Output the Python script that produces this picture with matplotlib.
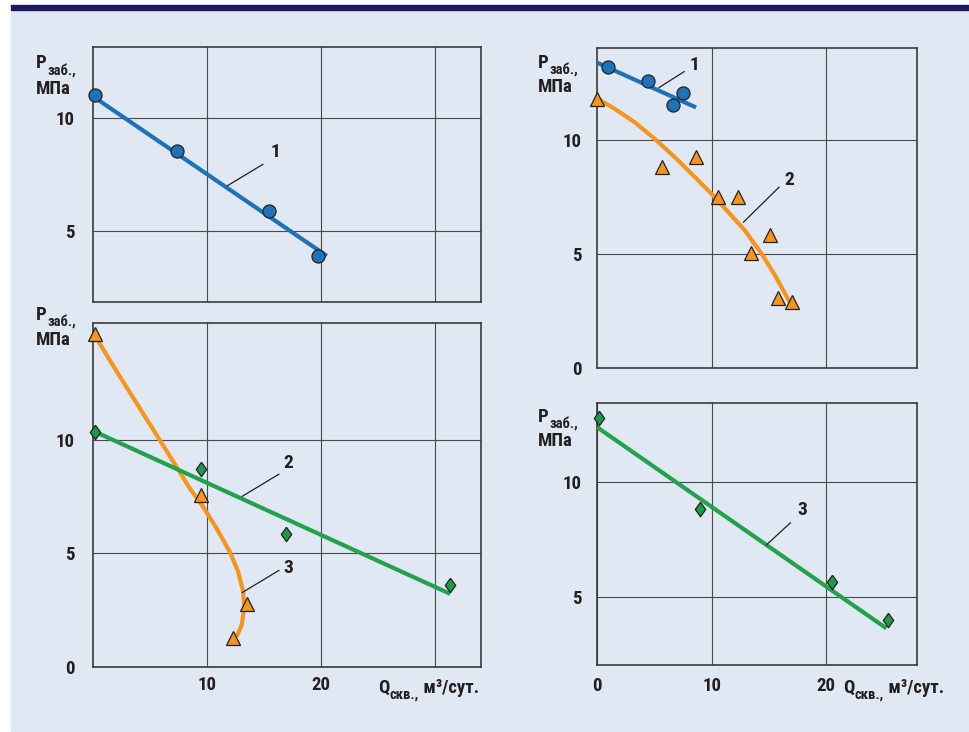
import matplotlib
matplotlib.use('Agg')
import matplotlib.pyplot as plt
from matplotlib import font_manager
from matplotlib.patches import Rectangle
from matplotlib.text import Annotation

# шрифт: узкий жирный, если есть
names = {f.name for f in font_manager.fontManager.ttflist}
narrow = [n for n in ['Liberation Sans Narrow', 'Roboto Condensed', 'Open Sans Condensed',
                      'Arial Narrow', 'Liberation Sans'] if n in names]
plt.rcParams['font.family'] = narrow[:1] + ['DejaVu Sans']
plt.rcParams['font.weight'] = 'bold'

W, H = 970, 732
TXT = '#231F20'
BG = '#E0E8F4'
BLUE = '#1D72B8'
ORANGE = '#F7941D'
GREEN = '#22A24A'
GREEN_M = '#1C9A48'

# --- данные (Q, м3/сут ; P, МПа) ---
# верхний левый: скважина 1
a_q1 = [0.2, 7.4, 15.4, 19.7]
a_p1 = [11.0, 8.55, 5.9, 3.9]
a_fit_q1 = [0.0, 20.5]
a_fit_p1 = [10.95, 3.9]

# нижний левый: 2 (ромбы), 3 (треугольники)
b_q2 = [0.17, 9.5, 16.9, 31.3]
b_p2 = [10.36, 8.73, 5.85, 3.61]
b_fit_q2 = [0.17, 31.3]
b_fit_p2 = [10.36, 3.21]
b_q3 = [0.17, 9.45, 13.53, 12.27]
b_p3 = [14.65, 7.56, 2.76, 1.27]
b_fit_q3 = [0.2, 1.51, 2.97, 4.43, 5.89, 7.35, 8.51, 9.68, 10.85, 12.01, 12.74,
            13.18, 13.27, 13.04, 12.6]
b_fit_p3 = [14.59, 13.49, 12.31, 11.14, 9.97, 8.8, 7.85, 7.04, 6.09, 5.06, 4.18,
            3.3, 2.57, 1.83, 1.32]

# верхний правый: 1 (круги), 2 (треугольники)
c_q1 = [0.96, 4.4, 7.47, 6.65]
c_p1 = [13.2, 12.6, 12.05, 11.53]
c_fit_q1 = [0.0, 8.64]
c_fit_p1 = [13.39, 11.43]
c_q2 = [0.0, 5.69, 8.61, 10.6, 12.35, 15.1, 13.44, 15.83, 17.06]
c_p2 = [11.79, 8.8, 9.27, 7.49, 7.49, 5.85, 5.06, 3.07, 2.9]
c_fit_q2 = [0.09, 1.55, 3.3, 5.05, 6.8, 8.55, 10.0, 11.46, 12.92, 14.38, 15.55, 16.42, 17.0]
c_fit_p2 = [11.79, 11.36, 10.77, 10.04, 9.24, 8.37, 7.64, 6.84, 6.03, 5.01, 4.07, 3.27, 2.75]

# нижний правый: 3 (ромбы)
d_q3 = [0.15, 9.0, 20.5, 25.4]
d_p3 = [12.75, 8.82, 5.64, 4.0]
d_fit_q3 = [0.0, 25.3]
d_fit_p3 = [12.36, 3.64]

DIAMOND = [(0, 1), (0.72, 0), (0, -1), (-0.72, 0), (0, 1)]


def px(x, y):
    # пиксели картинки -> доли фигуры
    return x / W, 1 - y / H


def make_axes(fig, l, t, r, b, xlim, ylim, xgrid, ygrid, xlabels, ylabels, ypad, xpad):
    ax = fig.add_axes([l / W, 1 - b / H, (r - l) / W, (b - t) / H])
    ax.set_facecolor('none')
    ax.set_xlim(*xlim)
    ax.set_ylim(*ylim)
    ax.set_xticks(xgrid)
    ax.set_xticklabels(xlabels)
    ax.set_yticks(ygrid)
    ax.set_yticklabels(ylabels)
    ax.tick_params(length=0, labelsize=13.5, labelcolor=TXT)
    ax.tick_params(axis='y', pad=ypad)
    ax.tick_params(axis='x', pad=xpad)
    ax.grid(True, color='#4a4a4a', lw=0.8, zorder=1)
    ax.set_axisbelow(True)
    for s in ax.spines.values():
        s.set_color('#3a3a3a')
        s.set_linewidth(1.2)
    return ax


def pts(ax, q, p, marker, color, ms):
    ax.plot(q, p, ls='none', marker=marker, ms=ms, mfc=color, mec='#222222',
            mew=0.9, zorder=5, clip_on=False)


def fit(ax, q, p, color):
    ax.plot(q, p, color=color, lw=3.0, zorder=4, solid_capstyle='butt',
            solid_joinstyle='round')


def tag(ax, label, tx, ty, q0, p0, q1, p1):
    ax.plot([q0, q1], [p0, p1], color=TXT, lw=0.9, zorder=6)
    ax.text(tx, ty, label, fontsize=14, color=TXT, ha='center', va='center', zorder=6)


def after(fig, parent, s, dy, size):
    # текст, приклеенный справа к предыдущему (индекс)
    a = Annotation(s, xy=(1, 0), xycoords=parent, xytext=(0.3, dy),
                   textcoords='offset points', fontsize=size, color=TXT, va='bottom')
    fig.add_artist(a)
    return a


def ylab(fig, x, y1, y2):
    t = fig.text(*px(x, y1), 'P', fontsize=13.5, color=TXT, va='baseline')
    after(fig, t, 'заб.,', -3.5, 10.5)
    fig.text(*px(x, y2), 'МПа', fontsize=13.5, color=TXT, va='baseline')


def xlab(fig, x, y):
    t = fig.text(*px(x, y), 'Q', fontsize=13.5, color=TXT, va='baseline')
    t2 = after(fig, t, 'скв.,', -3.0, 10.5)
    after(fig, t2, ' м³/сут.', 3.0, 13.5)


fig = plt.figure(figsize=(W / 100, H / 100), dpi=100, facecolor='white')
fig.patches.append(Rectangle(px(11, 731), (W - 11) / W, 721 / H,
                             transform=fig.transFigure, color=BG, zorder=-2))
fig.patches.append(Rectangle(px(11, 9.5), (W - 11) / W, 4 / H,
                             transform=fig.transFigure, color='#1E1A5E', zorder=-2))

# верхний левый
ax = make_axes(fig, 92.7, 47, 481, 301.7, (0, 34), (1.88, 13.12),
               [10, 20, 30], [5, 10], ['', '', ''], ['5', '10'], 12.7, 7)
fit(ax, a_fit_q1, a_fit_p1, BLUE)
pts(ax, a_q1, a_p1, 'o', BLUE, 9.4)
tag(ax, '1', 16.0, 8.5, 14.9, 7.94, 11.8, 7.0)
ylab(fig, 36, 68.3, 94)

# нижний левый
ax = make_axes(fig, 92.7, 323.3, 481, 666.7, (0, 34), (0, 15.13),
               [10, 20, 30], [0, 5, 10], ['10', '20', ''], ['0', '5', '10'], 12.7, 7)
fit(ax, b_fit_q3, b_fit_p3, ORANGE)
fit(ax, b_fit_q2, b_fit_p2, GREEN)
pts(ax, b_q3, b_p3, '^', ORANGE, 9.6)
pts(ax, b_q2, b_p2, DIAMOND, GREEN_M, 10.4)
tag(ax, '2', 17.1, 8.99, 16.3, 8.48, 13.1, 7.51)
tag(ax, '3', 17.1, 4.34, 16.3, 4.24, 13.1, 3.27)
ylab(fig, 36, 320, 345)
xlab(fig, 378, 693)

# верхний правый
ax = make_axes(fig, 597.3, 47.7, 916.7, 368, (0, 27.95), (0, 14.05),
               [10, 20], [0, 5, 10], ['', ''], ['0', '5', '10'], 11.5, 8)
fit(ax, c_fit_q2, c_fit_p2, ORANGE)
fit(ax, c_fit_q1, c_fit_p1, BLUE)
pts(ax, c_q2, c_p2, '^', ORANGE, 9.6)
pts(ax, c_q1, c_p1, 'o', BLUE, 9.4)
tag(ax, '1', 8.5, 13.3, 7.6, 13.0, 5.4, 12.3)
tag(ax, '2', 16.8, 8.25, 15.9, 7.93, 12.8, 6.4)
ylab(fig, 538.3, 67.7, 92.3)

# нижний правый
ax = make_axes(fig, 597.3, 402.7, 916.7, 665, (0, 27.95), (2.05, 13.43),
               [0, 10, 20], [5, 10], ['0', '10', '20'], ['5', '10'], 11.5, 8.4)
fit(ax, d_fit_q3, d_fit_p3, GREEN)
pts(ax, d_q3, d_p3, DIAMOND, GREEN_M, 10.4)
tag(ax, '3', 17.9, 8.78, 16.9, 8.22, 14.8, 7.26)
ylab(fig, 538.3, 421.7, 446)
xlab(fig, 843, 693)

fig.savefig('out.png', dpi=100, facecolor='white')
